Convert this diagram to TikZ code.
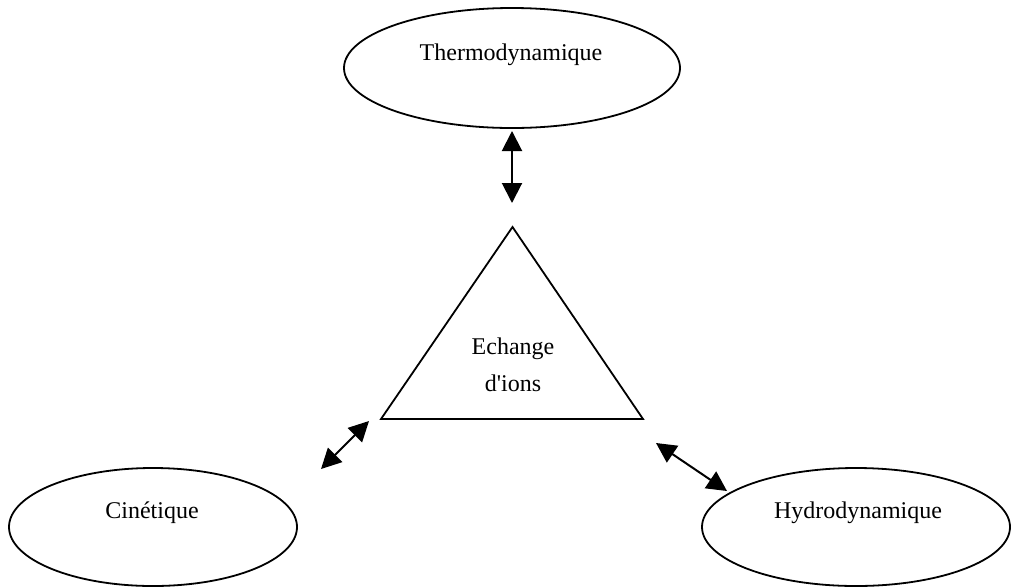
\documentclass[tikz,border=0pt]{standalone}
\usepackage{fontspec}
\setmainfont{Liberation Serif}
\usetikzlibrary{shapes.geometric,arrows.meta}
\tikzset{
  oval/.style={draw, ellipse, line width=1.8pt, inner sep=0pt},
  lbl/.style={font=\fontsize{24}{30}\selectfont, inner sep=0pt, anchor=base},
  dbl/.style={line width=2pt, {Triangle[length=20pt,width=20pt]}-{Triangle[length=20pt,width=20pt]}}
}
\begin{document}
\begin{tikzpicture}[x=1pt,y=-1pt]
\useasboundingbox (0,0) rectangle (1011,587);
% ellipses
\node[oval, minimum width=336pt, minimum height=120pt] (thermo) at (512,68) {};
\node[oval, minimum width=288pt, minimum height=118pt] (cin) at (153,527) {};
\node[oval, minimum width=308pt, minimum height=118pt] (hydro) at (856,527) {};
% labels
\node[lbl] (tthermo) at (511,60) {Thermodynamique};
\node[lbl] (tcin) at (152,518) {Cinétique};
\node[lbl] (thydro) at (858,518) {Hydrodynamique};
% triangle
\coordinate (apex) at (512.5,227);
\coordinate (bl) at (381,419);
\coordinate (br) at (643,419);
\draw[line width=1.8pt, line join=miter] (apex) -- (bl) -- (br) -- cycle;
\node[lbl, align=center, anchor=center] (tech) at (513,365) {Echange\\[7pt]d\textquotesingle ions};
% arrows
\coordinate (a1) at (512,131);
\coordinate (a2) at (512,203);
\coordinate (b1) at (369,421);
\coordinate (b2) at (321,469);
\coordinate (c1) at (656,443);
\coordinate (c2) at (727,491);
\draw[dbl] (a1) -- (a2);
\draw[dbl] (b1) -- (b2);
\draw[dbl] (c1) -- (c2);
\end{tikzpicture}
\end{document}
